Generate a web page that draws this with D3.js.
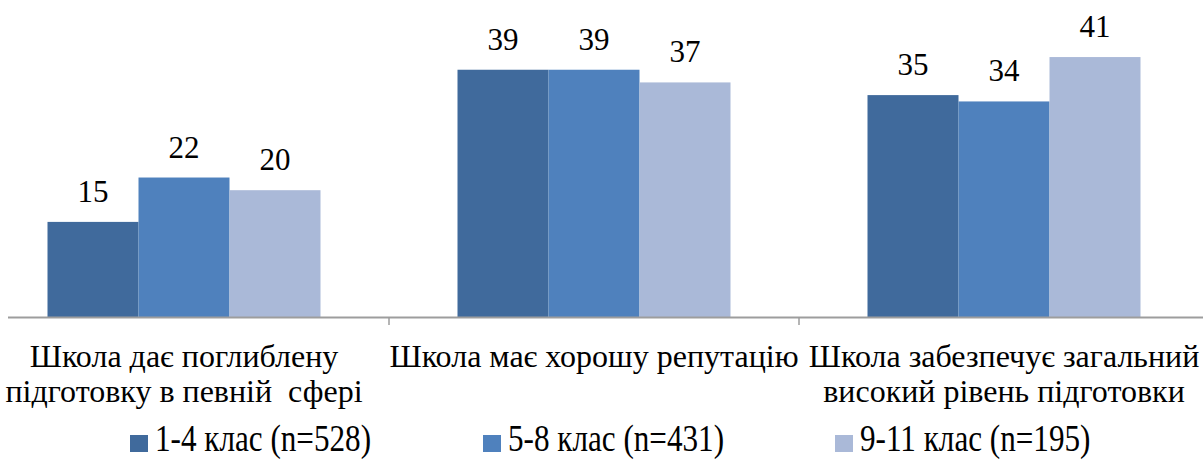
<!DOCTYPE html>
<html><head><meta charset="utf-8">
<script src="https://cdn.jsdelivr.net/npm/d3@7"></script>
</head>
<body style="margin:0;padding:0;background:#fff">
<svg id="fig" width="1203" height="461" style="display:block"></svg>
<script>
const categories = [
  ["Школа дає поглиблену", "підготовку в певній  сфері"],
  ["Школа має хорошу репутацію"],
  ["Школа забезпечує загальний", "високий рівень підготовки"]
];
const series = ["1-4 клас (n=528)", "5-8 клас (n=431)", "9-11 клас (n=195)"];
const values = [
  [15, 39, 35],
  [22, 39, 34],
  [20, 37, 41]
];
const colors = ["#406A9C", "#4F81BD", "#AAB9D8"];

const FONT = "'Liberation Serif', 'Times New Roman', Tinos";
const svg = d3.select("#fig");
const W = 1203, H = 461;
const plotTop = 0, plotBottom = 317;

function serif(sel) {
  return sel.attr("font-family", "Liberation Serif").style("font-family", FONT, "important");
}

const x0 = d3.scaleBand().domain(d3.range(categories.length))
  .range([-21, 1209]).paddingInner(137/410).paddingOuter(137/820);
const x1 = d3.scaleBand().domain(d3.range(series.length))
  .range([0, x0.bandwidth()]);
const y = d3.scaleLinear().domain([0, 50]).range([plotBottom, plotTop]);

// bars
const groups = svg.append("g").selectAll("g").data(categories).join("g")
  .attr("transform", (d, i) => `translate(${x0(i)},0)`);
groups.selectAll("rect").data((d, i) => series.map((s, j) => ({j, v: values[j][i]})))
  .join("rect")
  .attr("x", d => x1(d.j))
  .attr("width", x1.bandwidth())
  .attr("y", d => y(d.v))
  .attr("height", d => y(0) - y(d.v))
  .attr("fill", d => colors[d.j]);

// data labels
groups.selectAll("text.lbl").data((d, i) => series.map((s, j) => ({j, v: values[j][i]})))
  .join("text").attr("class", "lbl")
  .attr("x", d => x1(d.j) + x1.bandwidth() / 2)
  .attr("y", d => y(d.v) - 20)
  .attr("text-anchor", "middle")
  .attr("font-size", 31)
  .attr("fill", "#000")
  .call(serif)
  .text(d => d.v);

// axis line
svg.append("line").attr("x1", 8).attr("x2", W).attr("y1", plotBottom + 0.5).attr("y2", plotBottom + 0.5)
  .attr("stroke", "#9d9d9d").attr("stroke-width", 2);
// ticks between categories
const tickXs = d3.range(1, categories.length).map(i => x0(i) - x0.step() * x0.paddingInner() / 2);
svg.append("g").selectAll("line").data(tickXs).join("line")
  .attr("x1", d => d).attr("x2", d => d)
  .attr("y1", plotBottom).attr("y2", plotBottom + 8)
  .attr("stroke", "#9d9d9d").attr("stroke-width", 1.5);

// category labels (kept inside the right edge)
const ctx = document.createElement("canvas").getContext("2d");
ctx.font = "32px 'Liberation Serif'";
const catG = svg.append("g");
categories.forEach((lines, i) => {
  const cx = x0(i) + x0.bandwidth() / 2;
  const maxW = d3.max(lines, l => ctx.measureText(l).width);
  const lx = Math.min(cx, W - 2 - maxW / 2);
  const t = catG.append("text").attr("text-anchor", "middle").attr("font-size", 32)
    .attr("fill", "#000").attr("xml:space", "preserve")
    .call(serif);
  lines.forEach((ln, k) => {
    t.append("tspan").attr("x", lx).attr("y", 367 + k * 35).text(ln);
  });
});

// legend
const legendX = [130, 483, 835];
const lg = svg.append("g").selectAll("g").data(series).join("g")
  .attr("transform", (d, i) => `translate(${legendX[i]},0)`);
lg.append("rect").attr("x", 0).attr("y", 435).attr("width", 18).attr("height", 17)
  .attr("fill", (d, i) => colors[i]);
lg.append("text").attr("transform", "translate(25,451) scale(0.82,1)")
  .attr("font-size", 38).attr("fill", "#000")
  .call(serif)
  .text(d => d);
</script>
</body></html>
